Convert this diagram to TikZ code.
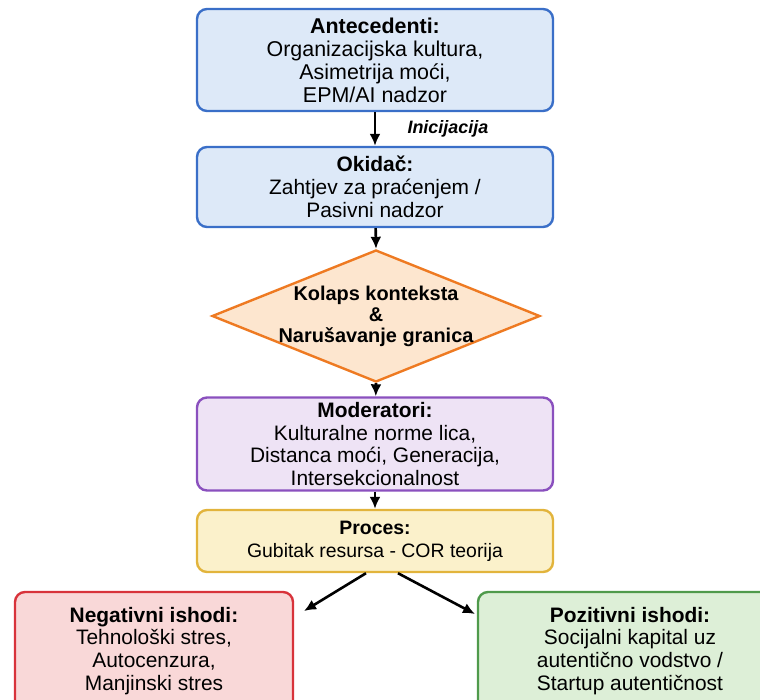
\documentclass[tikz,border=0pt]{standalone}
\usepackage{fontspec}
\setmainfont{Liberation Sans}
\usetikzlibrary{arrows.meta,shapes.geometric}

\definecolor{antline}{HTML}{3A6FC8}
\definecolor{antfill}{HTML}{DDE9F8}
\definecolor{kolline}{HTML}{EE7A22}
\definecolor{kolfill}{HTML}{FDE6CF}
\definecolor{modline}{HTML}{8A50BE}
\definecolor{modfill}{HTML}{EEE3F5}
\definecolor{proline}{HTML}{E2B43C}
\definecolor{profill}{HTML}{FBF1CB}
\definecolor{negline}{HTML}{D8333B}
\definecolor{negfill}{HTML}{F9D8D8}
\definecolor{posline}{HTML}{4F9A4B}
\definecolor{posfill}{HTML}{DDEFD7}

\begin{document}
\begin{tikzpicture}[x=1bp,y=-1bp,
    box/.style={draw, rounded corners=10bp, line width=2.4bp, align=center, inner sep=0pt,
        minimum width=356bp, font=\fontsize{21}{23}\selectfont},
    flow/.style={-{Latex[length=12bp,width=11bp]}, line width=2.6bp}]
    \useasboundingbox (0,0) rectangle (760,700);

    \node[box, draw=antline, fill=antfill, minimum height=102bp, font=\fontsize{21.5}{23}\selectfont] (ante) at (375,60)
        {\textbf{Antecedenti:}\\Organizacijska kultura,\\Asimetrija moći,\\EPM/AI nadzor};
    \node[box, draw=antline, fill=antfill, minimum height=80bp] (okid) at (375,187)
        {\textbf{Okidač:}\\Zahtjev za praćenjem /\\Pasivni nadzor};
    \node[diamond, draw=kolline, fill=kolfill, line width=2.4bp, inner sep=0pt,
        minimum width=328bp, minimum height=132bp] (kol) at (376,316) {};
    \node[align=center, font=\bfseries\fontsize{20}{21}\selectfont] (koltext) at (kol)
        {Kolaps konteksta\\\&\\Narušavanje granica};
    \node[box, draw=modline, fill=modfill, minimum height=93bp] (moder) at (375,444)
        {\textbf{Moderatori:}\\Kulturalne norme lica,\\Distanca moći, Generacija,\\Intersekcionalnost};
    \node[box, draw=proline, fill=profill, minimum height=62bp, font=\fontsize{19.5}{23}\selectfont] (proc) at (375,541)
        {\textbf{Proces:}\\Gubitak resursa - COR teorija};
    \node[box, draw=negline, fill=negfill, minimum width=278bp, minimum height=118bp] (neg) at (154,651)
        {\textbf{Negativni ishodi:}\\Tehnološki stres,\\Autocenzura,\\Manjinski stres};
    \node[box, draw=posline, fill=posfill, minimum width=304bp, minimum height=118bp] (pos) at (630,651)
        {\textbf{Pozitivni ishodi:}\\Socijalni kapital uz\\autentično vodstvo /\\Startup autentičnost};

    \node[anchor=west, font=\bfseries\itshape\fontsize{18}{20}\selectfont] (inic) at (404,129) {Inicijacija};

    \coordinate (negtip) at (304,611);
    \coordinate (postip) at (475,614);

    \draw[flow] (ante) -- (okid);
    \draw[flow] (okid) -- (kol.north);
    \draw[flow] (kol.south) -- (moder);
    \draw[flow] (moder) -- (proc);
    \draw[flow] ([xshift=-9bp]proc.south) -- (negtip);
    \draw[flow] ([xshift=23bp]proc.south) -- (postip);

\end{tikzpicture}
\end{document}
